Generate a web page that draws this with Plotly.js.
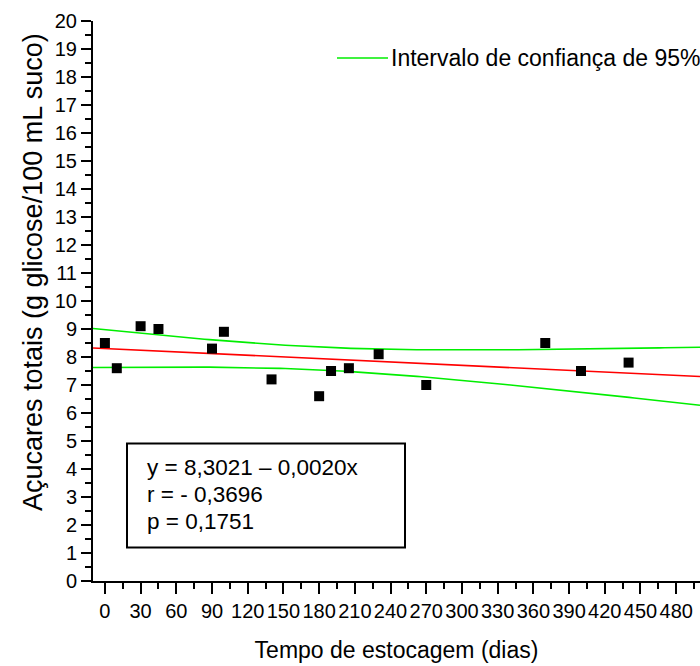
<!DOCTYPE html>
<html>
<head>
<meta charset="utf-8">
<script src="https://cdn.plot.ly/plotly-3.0.1.min.js"></script>
<style>
  html, body { margin: 0; padding: 0; background: #fff; }
  #chart { width: 700px; height: 666px; }
</style>
</head>
<body>
<div id="chart"></div>
<script>
// Storage time (days) and total sugars (g glucose / 100 mL juice)
const dias = [0, 10, 30, 45, 90, 100, 140, 180, 190, 205, 230, 270, 370, 400, 440];
const acucares = [8.5, 7.6, 9.1, 9.0, 8.3, 8.9, 7.2, 6.6, 7.5, 7.6, 8.1, 7.0, 8.5, 7.5, 7.8];

// Reported regression coefficients and statistics
const intercepto = 8.3021;
const inclinacao = -0.0020;
const textoEstat = ["y = 8,3021 \u2013 0,0020x", "r = - 0,3696", "p = 0,1751"];

// Axis ranges and ticks
const xRange = [-10, 500];
const yRange = [0, 20];
const xTickVals = [0, 30, 60, 90, 120, 150, 180, 210, 240, 270, 300, 330, 360, 390, 420, 450, 480];
const yTickVals = [0, 1, 2, 3, 4, 5, 6, 7, 8, 9, 10, 11, 12, 13, 14, 15, 16, 17, 18, 19, 20];

const legendaIC = "Intervalo de confiança de 95%";
const tituloX = "Tempo de estocagem (dias)";
const tituloY = "Açucares totais (g glicose/100 mL suco)";

// Student t critical value, two-sided 95 %, n - 2 = 13 degrees of freedom
const T_CRIT = 2.1604;

// --- least-squares fit and 95 % confidence band of the mean response ---
const n = dias.length;
const xm = dias.reduce((a, b) => a + b, 0) / n;
const ym = acucares.reduce((a, b) => a + b, 0) / n;
let sxx = 0, sxy = 0;
for (let i = 0; i < n; i++) {
  sxx += (dias[i] - xm) ** 2;
  sxy += (dias[i] - xm) * (acucares[i] - ym);
}
const b1 = sxy / sxx;
const b0 = ym - b1 * xm;
let sse = 0;
for (let i = 0; i < n; i++) sse += (acucares[i] - (b0 + b1 * dias[i])) ** 2;
const s = Math.sqrt(sse / (n - 2));

const nGrid = 120;
const xs = [], yFit = [], yLo = [], yHi = [];
for (let k = 0; k <= nGrid; k++) {
  const x = xRange[0] + (xRange[1] - xRange[0]) * k / nGrid;
  const fitData = b0 + b1 * x;
  const half = T_CRIT * s * Math.sqrt(1 / n + (x - xm) ** 2 / sxx);
  xs.push(x);
  yFit.push(intercepto + inclinacao * x);
  yLo.push(fitData - half);
  yHi.push(fitData + half);
}

// --- layout geometry (pixels) ---
const W = 700, H = 666;
const M = { l: 93, r: 0, t: 21, b: 85 };
const pw = W - M.l - M.r, ph = H - M.t - M.b;
const px = v => (v - M.l) / pw;          // pixel x -> paper x
const py = v => (H - M.b - v) / ph;      // pixel y -> paper y

const FONT = "Liberation Sans, Arial, sans-serif";
const verde = "#00ee00";

const traces = [
  { x: xs, y: yHi, mode: "lines", line: { color: verde, width: 1.6 }, hoverinfo: "skip" },
  { x: xs, y: yLo, mode: "lines", line: { color: verde, width: 1.6 }, hoverinfo: "skip" },
  { x: xs, y: yFit, mode: "lines", line: { color: "#ff0000", width: 1.6 }, hoverinfo: "skip" },
  { x: dias, y: acucares, mode: "markers",
    marker: { symbol: "square", size: 10, color: "#000000" } }
];

const eixoComum = {
  showline: true, linecolor: "#000", linewidth: 2,
  showgrid: false, zeroline: false,
  ticks: "outside", tickcolor: "#000", tickwidth: 2,
  tickfont: { family: FONT, size: 20, color: "#000" },
  fixedrange: true
};

// statistics text, one annotation per line
const linhasY = [467, 494, 521];
const notasEstat = textoEstat.map((t, i) => ({
  xref: "paper", yref: "paper", x: px(145), y: py(linhasY[i]),
  xanchor: "left", yanchor: "middle", text: t, showarrow: false,
  font: { family: FONT, size: 22.5, color: "#000" }
}));

const layout = {
  width: W, height: H,
  margin: M,
  paper_bgcolor: "#fff", plot_bgcolor: "#fff",
  showlegend: false,
  font: { family: FONT, color: "#000" },
  xaxis: Object.assign({}, eixoComum, {
    range: xRange, tickmode: "array", tickvals: xTickVals, ticklen: 11,
    minor: { dtick: 15, tick0: 0, ticks: "outside", ticklen: 6, tickwidth: 2, tickcolor: "#000" },
    title: { text: tituloX, font: { family: FONT, size: 23, color: "#000" }, standoff: 21 }
  }),
  yaxis: Object.assign({}, eixoComum, {
    range: yRange, tickmode: "array", tickvals: yTickVals, ticklen: 10,
    minor: { dtick: 0.5, tick0: 0, ticks: "outside", ticklen: 6, tickwidth: 2, tickcolor: "#000" }
  }),
  shapes: [
    // statistics box
    { type: "rect", xref: "paper", yref: "paper",
      x0: px(127), x1: px(405), y0: py(547.5), y1: py(443.5),
      line: { color: "#000", width: 2 }, fillcolor: "rgba(0,0,0,0)" },
    // legend key for the confidence band
    { type: "line", xref: "paper", yref: "paper",
      x0: px(337), x1: px(388), y0: py(58), y1: py(58),
      line: { color: verde, width: 1.6 } }
  ],
  annotations: [
    { xref: "paper", yref: "paper", x: px(389), y: py(58), xanchor: "left", yanchor: "middle",
      text: legendaIC, showarrow: false, font: { family: FONT, size: 23, color: "#000" } },
    { xref: "paper", yref: "paper", x: px(33), y: py(272), xanchor: "center", yanchor: "middle",
      textangle: -90, text: tituloY, showarrow: false,
      font: { family: FONT, size: 27, color: "#000" } }
  ].concat(notasEstat)
};

Plotly.newPlot("chart", traces, layout, { displayModeBar: false, staticPlot: true });
</script>
</body>
</html>
